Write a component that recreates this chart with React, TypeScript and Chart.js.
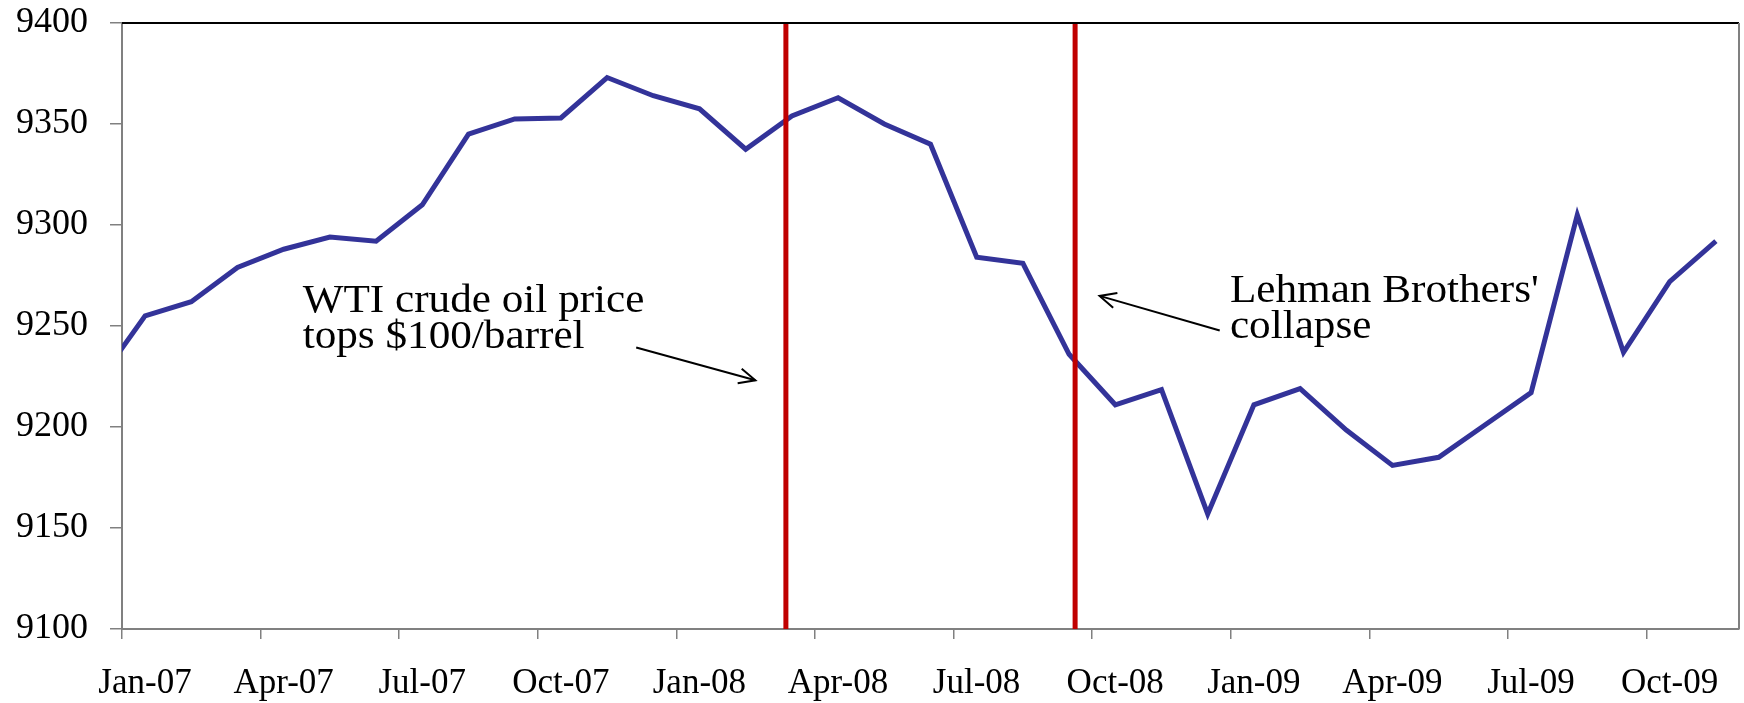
import React, { useEffect, useRef } from "react";
import { Chart, registerables } from "chart.js";

Chart.register(...registerables);

// Monthly series (first entry lies just left of the axis and is clipped)
const MONTHS = [
  "Dec-06",
  "Jan-07", "Feb-07", "Mar-07", "Apr-07", "May-07", "Jun-07",
  "Jul-07", "Aug-07", "Sep-07", "Oct-07", "Nov-07", "Dec-07",
  "Jan-08", "Feb-08", "Mar-08", "Apr-08", "May-08", "Jun-08",
  "Jul-08", "Aug-08", "Sep-08", "Oct-08", "Nov-08", "Dec-08",
  "Jan-09", "Feb-09", "Mar-09", "Apr-09", "May-09", "Jun-09",
  "Jul-09", "Aug-09", "Sep-09", "Oct-09", "Nov-09",
];
const VALUES = [
  9223,
  9255, 9262, 9279, 9288, 9294, 9292,
  9310, 9345, 9352.5, 9353, 9373, 9364,
  9357.5, 9337.5, 9354, 9363, 9350, 9340,
  9284, 9281, 9236, 9211, 9218.5, 9157,
  9211, 9219, 9198.5, 9181, 9185, 9201,
  9217, 9305, 9237, 9272, 9292,
];
const TICK_LABELS = [
  "Jan-07", "Apr-07", "Jul-07", "Oct-07",
  "Jan-08", "Apr-08", "Jul-08", "Oct-08",
  "Jan-09", "Apr-09", "Jul-09", "Oct-09",
];
const Y_MIN = 9100;
const Y_MAX = 9400;
const Y_STEP = 50;
// Event markers, in months since Jan-07
const EVENT_MONTHS = [13.87, 20.13];

// month index: 0 = Jan-07
const monthIndex = (label: string) => MONTHS.indexOf(label) - 1;
const TICK_POS = TICK_LABELS.map((l) => monthIndex(l) - 0.5);

const ANNOTATIONS = [
  {
    lines: ["WTI crude oil price", "tops $100/barrel"],
    textAt: { x: 3.41, y: [9256.8, 9238.9] },
    arrow: { from: { x: 10.63, y: 9239.4 }, to: { x: 13.21, y: 9223.1 } },
  },
  {
    lines: ["Lehman Brothers'", "collapse"],
    textAt: { x: 23.48, y: [9262.1, 9243.9] },
    arrow: { from: { x: 23.26, y: 9247.8 }, to: { x: 20.66, y: 9264.9 } },
  },
];

const FONT = "'Liberation Serif', 'Times New Roman', serif";
const TEXT_STRETCH = 1.08;

const overlayPlugin = {
  id: "overlay",
  afterDraw(chart: any) {
    const { ctx, chartArea, scales } = chart;
    const xs = scales.x;
    const ys = scales.y;
    ctx.save();
    // top (black) and right (gray) frame lines
    ctx.lineWidth = 2;
    ctx.strokeStyle = "#000000";
    ctx.beginPath();
    ctx.moveTo(chartArea.left, chartArea.top);
    ctx.lineTo(chartArea.right, chartArea.top);
    ctx.stroke();
    ctx.strokeStyle = "#808080";
    ctx.beginPath();
    ctx.moveTo(chartArea.right, chartArea.top);
    ctx.lineTo(chartArea.right, chartArea.bottom);
    ctx.stroke();

    // annotations
    ctx.fillStyle = "#000000";
    ctx.font = `40px ${FONT}`;
    ctx.textAlign = "left";
    ctx.textBaseline = "alphabetic";
    for (const a of ANNOTATIONS) {
      const tx = xs.getPixelForValue(a.textAt.x);
      a.lines.forEach((line, i) => {
        ctx.save();
        ctx.translate(tx, ys.getPixelForValue(a.textAt.y[i]));
        ctx.scale(TEXT_STRETCH, 1);
        ctx.fillText(line, 0, 0);
        ctx.restore();
      });
      const x1 = xs.getPixelForValue(a.arrow.from.x);
      const y1 = ys.getPixelForValue(a.arrow.from.y);
      const x2 = xs.getPixelForValue(a.arrow.to.x);
      const y2 = ys.getPixelForValue(a.arrow.to.y);
      ctx.strokeStyle = "#000000";
      ctx.lineWidth = 2;
      ctx.beginPath();
      ctx.moveTo(x1, y1);
      ctx.lineTo(x2, y2);
      ctx.stroke();
      const ang = Math.atan2(y2 - y1, x2 - x1);
      const len = 18;
      const spread = (25 * Math.PI) / 180;
      ctx.beginPath();
      ctx.moveTo(x2 - len * Math.cos(ang - spread), y2 - len * Math.sin(ang - spread));
      ctx.lineTo(x2, y2);
      ctx.lineTo(x2 - len * Math.cos(ang + spread), y2 - len * Math.sin(ang + spread));
      ctx.stroke();
    }
    ctx.restore();
  },
};

export default function App() {
  const canvasRef = useRef<HTMLCanvasElement | null>(null);

  useEffect(() => {
    document.body.style.margin = "0";
    const canvas = canvasRef.current;
    if (!canvas) return;

    const seriesData = VALUES.map((v, i) => ({ x: monthIndex(MONTHS[i]), y: v }));
    const eventDatasets = EVENT_MONTHS.map((m) => ({
      type: "line" as const,
      data: [
        { x: m, y: Y_MIN },
        { x: m, y: Y_MAX },
      ],
      borderColor: "#C00000",
      borderWidth: 5,
      pointRadius: 0,
      clip: 0,
      order: 0,
    }));

    const chart = new Chart(canvas, {
      type: "line",
      data: {
        datasets: [
          {
            label: "Index",
            data: seriesData,
            borderColor: "#333399",
            borderWidth: 5,
            pointRadius: 0,
            tension: 0,
            clip: 0,
            order: 1,
          },
          ...eventDatasets,
        ] as any,
      },
      options: {
        animation: false,
        responsive: false,
        layout: { padding: { top: 23, right: 5, left: 0, bottom: 0 } },
        plugins: {
          legend: { display: false },
          tooltip: { enabled: false },
        },
        scales: {
          x: {
            type: "linear",
            min: -0.5,
            max: 34.5,
            afterFit: (s: any) => {
              s.height = 74;
              s.paddingLeft = 0;
              s.paddingRight = 0;
            },
            afterBuildTicks: (s: any) => {
              s.ticks = TICK_POS.map((v) => ({ value: v }));
            },
            ticks: {
              autoSkip: false,
              maxRotation: 0,
              minRotation: 0,
              padding: 24,
              labelOffset: 23,
              color: "#000000",
              font: { family: FONT, size: 35 },
              callback: (_v: any, i: number) => TICK_LABELS[i],
            },
            grid: {
              drawOnChartArea: false,
              drawTicks: true,
              tickLength: 10,
              color: "#808080",
              lineWidth: 1.5,
            },
            border: { display: true, color: "#808080", width: 2 },
          },
          y: {
            min: Y_MIN,
            max: Y_MAX,
            afterFit: (s: any) => {
              s.width = 122;
              s.paddingTop = 0;
              s.paddingBottom = 0;
            },
            ticks: {
              stepSize: Y_STEP,
              padding: 22,
              color: "#000000",
              font: { family: FONT, size: 36 },
              callback: (v: any) => String(v),
            },
            grid: {
              drawOnChartArea: false,
              drawTicks: true,
              tickLength: 12,
              color: "#808080",
              lineWidth: 1.5,
            },
            border: { display: true, color: "#808080", width: 2 },
          },
        },
      } as any,
      plugins: [overlayPlugin],
    });

    return () => chart.destroy();
  }, []);

  return (
    <div style={{ width: 1744, height: 703 }}>
      <canvas ref={canvasRef} width={1744} height={703} />
    </div>
  );
}
